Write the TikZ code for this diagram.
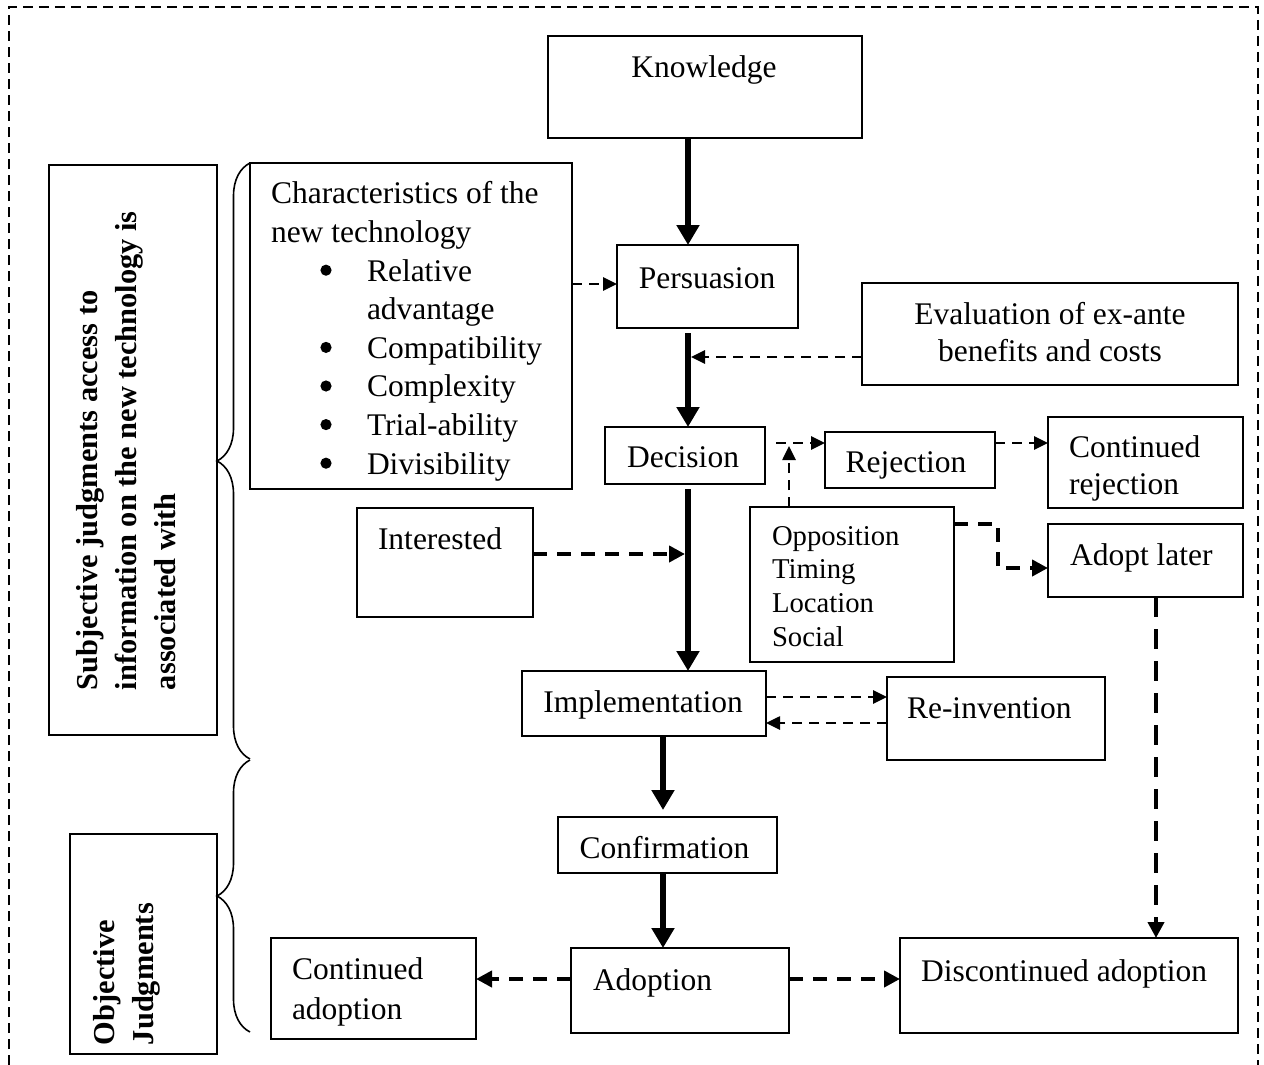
\documentclass[tikz,border=0pt]{standalone}
\usepackage{fontspec}
\setmainfont{Liberation Serif}
\usetikzlibrary{arrows.meta,calc,decorations.pathreplacing}
\begin{document}
\begin{tikzpicture}[x=0.5pt,y=-0.5pt,
  every node/.style={font=\fontsize{15.75pt}{19.3pt}\selectfont},
  box/.style={draw, line width=0.8pt, rectangle, inner sep=0pt, outer sep=0pt, anchor=north west},
  txt/.style={inner sep=0pt, outer sep=0pt, anchor=base},
  ltxt/.style={inner sep=0pt, outer sep=0pt, anchor=base west},
  bulletdot/.style={fill=black},
  solidarrow/.style={line width=3pt, -{Triangle[length=10pt,width=11pt]}},
  thindash/.style={line width=1.3pt, dash pattern=on 5pt off 3.5pt, -{Triangle[length=7pt,width=6.5pt]}},
  thickdash/.style={line width=2.25pt, dash pattern=on 7pt off 5pt, -{Triangle[length=8pt,width=8pt]}},
  longdash/.style={line width=2.25pt, dash pattern=on 10pt off 6pt, -{Triangle[length=8pt,width=8pt]}},
  frame/.style={line width=1pt, dash pattern=on 5pt off 3pt},
  bracestyle/.style={line width=0.8pt, decorate, decoration={brace, amplitude=16.5pt}},
  vtext/.style={inner sep=0pt, outer sep=0pt, rotate=90, anchor=west, align=left, font=\fontsize{15.2pt}{19.5pt}\selectfont\bfseries}
]
\useasboundingbox (0,0) rectangle (1264,1065);
% outer dashed frame
\draw[frame] (9,1065) -- (9,7) -- (1258,7) -- (1258,1065);

% boxes
\node[box, minimum width=157pt, minimum height=51pt] (know) at (548,36) {};
\node[box, minimum width=90.5pt, minimum height=41.5pt] (pers) at (617,245) {};
\node[box, minimum width=80pt, minimum height=28.5pt] (dec) at (605,427) {};
\node[box, minimum width=188pt, minimum height=51pt] (eval) at (862,283) {};
\node[box, minimum width=161pt, minimum height=163pt] (char) at (250,163) {};
\node[box, minimum width=85pt, minimum height=28pt] (rej) at (825,432) {};
\node[box, minimum width=97.5pt, minimum height=45.5pt] (crej) at (1048,417) {};
\node[box, minimum width=97.5pt, minimum height=36.5pt] (alat) at (1048,524) {};
\node[box, minimum width=102pt, minimum height=77.5pt] (opp) at (750,507) {};
\node[box, minimum width=88pt, minimum height=54.5pt] (inter) at (357,508) {};
\node[box, minimum width=122pt, minimum height=32.5pt] (impl) at (522,671) {};
\node[box, minimum width=109pt, minimum height=41.5pt] (reinv) at (887,677) {};
\node[box, minimum width=109.5pt, minimum height=28pt] (conf) at (558,817) {};
\node[box, minimum width=109pt, minimum height=42.5pt] (adopt) at (571,948) {};
\node[box, minimum width=102.5pt, minimum height=50.5pt] (cadopt) at (271,938) {};
\node[box, minimum width=169pt, minimum height=47.5pt] (disc) at (900,938) {};
\node[box, minimum width=84pt, minimum height=285pt] (subj) at (49,165) {};
\node[box, minimum width=73.5pt, minimum height=110pt] (obj) at (70,834) {};

% texts
\node[txt] (knowT) at (704,78) {Knowledge};
\node[txt] (persT) at (707,288) {Persuasion};
\node[txt] (decT) at (683,467) {Decision};
\node[txt] (evalT) at (1050,324) {\fontsize{15.75pt}{18.5pt}\selectfont\begin{tabular}[t]{@{}c@{}}Evaluation of ex-ante\\benefits and costs\end{tabular}};
\node[ltxt] (charT) at (271,204) {\begin{tabular}[t]{@{}l@{}}Characteristics of the\\new technology\\
\hspace*{48pt}Relative\\
\hspace*{48pt}advantage\\
\hspace*{48pt}Compatibility\\
\hspace*{48pt}Complexity\\
\hspace*{48pt}Trial-ability\\
\hspace*{48pt}Divisibility\end{tabular}};
% list bullets
\foreach \by in {270.2,347.4,386,424.6,463.2}
  \fill[bulletdot] (326,\by) circle (2.8pt);
\node[txt] (rejT) at (906,472) {Rejection};
\node[ltxt] (crejT) at (1069,457) {\fontsize{15.75pt}{18.5pt}\selectfont\begin{tabular}[t]{@{}l@{}}Continued\\rejection\end{tabular}};
\node[ltxt] (alatT) at (1070,565) {Adopt later};
\node[ltxt] (oppT) at (772,545) {\fontsize{14.35pt}{16.9pt}\selectfont\begin{tabular}[t]{@{}l@{}}Opposition\\Timing\\Location\\Social\end{tabular}};
\node[ltxt] (interT) at (378,549) {Interested};
\node[txt] (implT) at (643,712) {Implementation};
\node[ltxt] (reinvT) at (907,718) {Re-invention};
\node[txt] (confT) at (664.5,858) {Confirmation};
\node[ltxt] (adoptT) at (593,990) {Adoption};
\node[ltxt] (cadoptT) at (292,979) {\fontsize{15.75pt}{20pt}\selectfont\begin{tabular}[t]{@{}l@{}}Continued\\adoption\end{tabular}};
\node[ltxt] (discT) at (921,981) {Discontinued adoption};
\node[vtext] (subjT) at (126,690) {Subjective judgments access to\\information on the new technology is\\associated with};
\node[vtext] (objT) at (127,1045) {Objective\\Judgments};

% braces
\draw[bracestyle] (250,759) -- (250,163);
\draw[bracestyle] (250,1032) -- (250,760);

% helper coordinates
\coordinate (sx1) at (688,0);
\coordinate (sx2) at (663,0);
\coordinate (evtip) at (691,357);
\coordinate (intip) at (685,554);
\coordinate (cy) at (0,284);
\coordinate (ry) at (0,443);
\coordinate (ux) at (789,446);
\coordinate (e1) at (998,524);
\coordinate (e2) at (998,568);
\coordinate (dx) at (1156,0);
\coordinate (iy1) at (0,697);
\coordinate (iy2) at (0,723);
\coordinate (ay) at (0,979);

% solid main flow
\draw[solidarrow] (know.south -| sx1) -- (pers.north -| sx1);
\draw[solidarrow] ($(pers.south -| sx1)+(0,5)$) -- (dec.north -| sx1);
\draw[solidarrow] ($(dec.south -| sx1)+(0,5)$) -- (impl.north -| sx1);
\draw[solidarrow] (impl.south -| sx2) -- ($(conf.north -| sx2)+(0,-7)$);
\draw[solidarrow] (conf.south -| sx2) -- (adopt.north -| sx2);

% dashed connectors
\draw[thindash] (char.east |- cy) -- (pers.west |- cy);
\draw[thindash] (eval.west |- evtip) -- (evtip);
\draw[thindash] ($(dec.east |- ry)+(11,0)$) -- (rej.west |- ry);
\draw[thindash] (opp.north -| ux) -- (ux);
\draw[thindash] (rej.east |- ry) -- (crej.west |- ry);
\draw[thickdash] (opp.east |- e1) -- (e1) -- (e2) -- (alat.west |- e2);
\draw[longdash] (alat.south -| dx) -- (disc.north -| dx);
\draw[thickdash] (inter.east |- intip) -- (intip);
\draw[thindash] (impl.east |- iy1) -- (reinv.west |- iy1);
\draw[thindash] (reinv.west |- iy2) -- (impl.east |- iy2);
\draw[thickdash] (adopt.west |- ay) -- (cadopt.east |- ay);
\draw[thickdash] (adopt.east |- ay) -- (disc.west |- ay);
\end{tikzpicture}
\end{document}
